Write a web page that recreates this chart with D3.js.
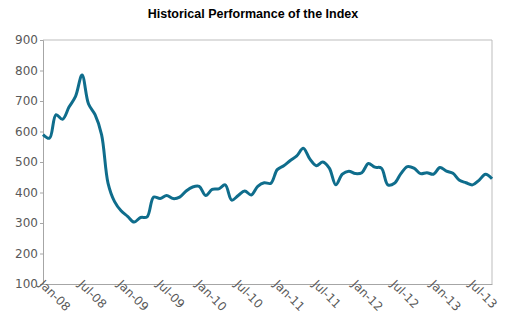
<!DOCTYPE html>
<html>
<head>
<meta charset="utf-8">
<script src="https://cdn.jsdelivr.net/npm/d3@7"></script>
<style>
  body { margin: 0; background: #fff; }
  svg { display: block; }
</style>
</head>
<body>
<svg id="chart" width="507" height="321"></svg>
<script>
// monthly index level, Jan-08 .. Oct-13
const months = d3.range(70).map(i => new Date(2008, i, 1));
const values = [
  590, 578, 655, 640, 680, 715, 785, 690, 655, 590,
  430, 370, 340, 322, 303, 318, 320, 385, 380, 390,
  380, 385, 405, 418, 420, 390, 410, 412, 425, 375,
  390, 405, 392, 420, 432, 430, 475, 488, 505, 520,
  545, 510, 488, 500, 480, 425, 460, 470, 462, 465,
  495, 483, 480, 425, 430, 462, 485, 480, 462, 465,
  460, 482, 470, 463, 440, 432, 425, 440, 460, 445
];
const yTicks = [100, 200, 300, 400, 500, 600, 700, 800, 900];
const title = "Historical Performance of the Index";

const svg = d3.select("#chart");
const plotL = 43, plotR = 492, plotT = 40, plotB = 284;

const x = d3.scalePoint().domain(d3.range(months.length)).range([plotL, plotR]);
const y = d3.scaleLinear().domain([100, 900]).range([plotB, plotT]);
const fmt = d3.timeFormat("%b-%y");

svg.append("text")
  .attr("x", 253).attr("y", 18)
  .attr("text-anchor", "middle")
  .style("font-family", "Liberation Sans, Arial, sans-serif")
  .style("font-weight", "bold")
  .style("font-size", "12.5px")
  .text(title);

// frame top/right
svg.append("path")
  .attr("d", `M${plotL},${plotT}H${plotR}V${plotB}`)
  .attr("fill", "none").attr("stroke", "#bdbdbd").attr("stroke-width", 1);

const yAxis = svg.append("g")
  .attr("transform", `translate(${plotL},0)`)
  .call(d3.axisLeft(y).tickValues(yTicks).tickSize(3).tickPadding(2));
yAxis.select(".domain").attr("stroke", "#a6a6a6");
yAxis.selectAll(".tick line").attr("stroke", "#a6a6a6");
yAxis.selectAll("text")
  .attr("fill", "#595959")
  .style("font-family", "DejaVu Sans, sans-serif")
  .style("font-size", "12px");

const xAxis = svg.append("g")
  .attr("transform", `translate(0,${plotB})`)
  .call(d3.axisBottom(x).tickValues(d3.range(0, months.length, 6)).tickSize(0).tickFormat(i => fmt(months[i])));
xAxis.select(".domain").attr("stroke", "#a6a6a6");
xAxis.selectAll("text")
  .attr("fill", "#595959")
  .style("font-family", "DejaVu Sans, sans-serif")
  .style("font-size", "12px")
  .attr("text-anchor", "start")
  .attr("transform", "translate(-2,-2) rotate(45)")
  .attr("x", 0).attr("y", 0).attr("dy", "0.35em");

const line = d3.line()
  .x((d, i) => x(i))
  .y(d => y(d))
  .curve(d3.curveCatmullRom.alpha(0.5));

svg.append("path")
  .datum(values)
  .attr("d", line)
  .attr("fill", "none")
  .attr("stroke", "#0f6d8c")
  .attr("stroke-width", 3)
  .attr("stroke-linejoin", "round");
</script>
</body>
</html>
